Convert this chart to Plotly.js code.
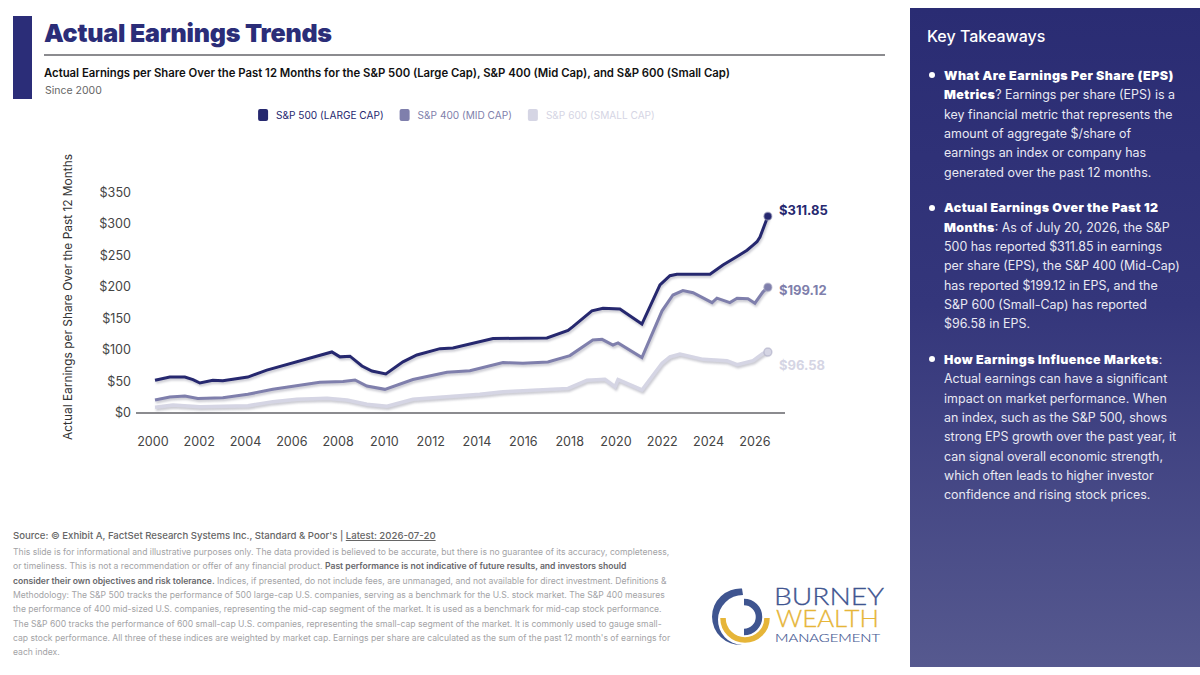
<!DOCTYPE html>
<html>
<head>
<meta charset="utf-8">
<script src="https://cdn.plot.ly/plotly-3.0.1.min.js"></script>
<style>
html,body{margin:0;padding:0;background:#fff;width:1200px;height:675px;overflow:hidden;font-family:Inter,"Noto Sans",sans-serif;}
#chart{position:absolute;left:0;top:0;width:1200px;height:675px;}
.t{position:absolute;white-space:nowrap;pointer-events:none;}
#bar{position:absolute;left:13px;top:16px;width:19px;height:83px;background:#2b2d78;}
#rule{position:absolute;left:44px;top:54px;width:841px;height:2px;background:#8b8b8f;}
#panel{position:absolute;left:910px;top:8px;width:290px;height:659px;background:linear-gradient(180deg,#2a2c73 0%,#34367b 45%,#56598f 100%);}
.k{position:absolute;left:944px;white-space:nowrap;color:#e9e9f3;font-size:12.45px;line-height:19px;font-weight:400;}
.k b{color:#fff;font-weight:900;letter-spacing:.42px;}
.dot{position:absolute;left:929px;width:6px;height:6px;border-radius:50%;background:#fff;}
.f{position:absolute;left:13px;white-space:nowrap;color:#a3a3a6;font-size:8.6px;line-height:14px;}
.f b{color:#67676b;font-weight:600;}
#logo{position:absolute;left:700px;top:570px;}
.legend .traces:nth-child(1) .legendtext{fill:#26286f !important;font-weight:500;}
.legend .traces:nth-child(2) .legendtext{fill:#7f7fac !important;font-weight:500;}
.legend .traces:nth-child(3) .legendtext{fill:#d5d5e4 !important;font-weight:500;}
.legend .legendtext{transform:translateX(-7px);}
.legend .legendpoints path{d:path("M-3,-6H3A2,2 0 0 1 5,-4V4A2,2 0 0 1 3,6H-3A2,2 0 0 1 -5,4V-4A2,2 0 0 1 -3,-6Z");stroke-width:0 !important;}
.scatterlayer .js-line{filter:drop-shadow(1px 2px 1px rgba(60,60,90,.28));}
</style>
</head>
<body>
<div id="chart"></div>
<div id="bar"></div>
<div id="rule"></div>
<div class="t" style="left:44px;top:17px;font-size:25px;line-height:32px;font-weight:900;color:#2b2d78;letter-spacing:-.2px;">Actual Earnings Trends</div>
<div class="t" style="left:44px;top:66px;font-size:11.33px;line-height:15px;font-weight:600;color:#111;">Actual Earnings per Share Over the Past 12 Months for the S&amp;P 500 (Large Cap), S&amp;P 400 (Mid Cap), and S&amp;P 600 (Small Cap)</div>
<div class="t" style="left:45px;top:84px;font-size:10.5px;line-height:14px;color:#666;">Since 2000</div>

<div class="t" style="left:13px;top:529px;font-size:9.6px;line-height:14px;font-weight:500;color:#666;">Source: © Exhibit A, FactSet Research Systems Inc., Standard &amp; Poor's | <u>Latest: 2026-07-20</u></div>
<div class="f" style="top:545px;">This slide is for informational and illustrative purposes only. The data provided is believed to be accurate, but there is no guarantee of its accuracy, completeness,</div>
<div class="f" style="top:559px;">or timeliness. This is not a recommendation or offer of any financial product. <b>Past performance is not indicative of future results, and investors should</b></div>
<div class="f" style="top:574px;"><b>consider their own objectives and risk tolerance.</b> Indices, if presented, do not include fees, are unmanaged, and not available for direct investment. Definitions &amp;</div>
<div class="f" style="top:588px;">Methodology: The S&amp;P 500 tracks the performance of 500 large-cap U.S. companies, serving as a benchmark for the U.S. stock market. The S&amp;P 400 measures</div>
<div class="f" style="top:602px;">the performance of 400 mid-sized U.S. companies, representing the mid-cap segment of the market. It is used as a benchmark for mid-cap stock performance.</div>
<div class="f" style="top:617px;">The S&amp;P 600 tracks the performance of 600 small-cap U.S. companies, representing the small-cap segment of the market. It is commonly used to gauge small-</div>
<div class="f" style="top:631px;">cap stock performance. All three of these indices are weighted by market cap. Earnings per share are calculated as the sum of the past 12 month's of earnings for</div>
<div class="f" style="top:645px;">each index.</div>

<svg id="logo" width="200" height="80" viewBox="0 0 200 80">
  <path d="M42 18.5 L43 25 A25.01 25.01 0 0 0 42 75 A28.3 28.3 0 1 1 42 18.5Z" fill="#3f5590"/>
  <path d="M44 32 A15 15 0 0 1 44 62" fill="none" stroke="#3f5590" stroke-width="6.5"/>
  <path d="M23 48 A22 22 0 0 0 67 48" fill="none" stroke="#e6b538" stroke-width="5.5"/>
  <text x="74" y="35" font-family="Lato" font-weight="300" font-size="24" fill="#3f5590" stroke="#3f5590" stroke-width=".3" textLength="110" lengthAdjust="spacingAndGlyphs">BURNEY</text>
  <text x="76" y="57" font-family="Lato" font-weight="300" font-size="24" fill="#e6b538" stroke="#e6b538" stroke-width=".3" textLength="103" lengthAdjust="spacingAndGlyphs">WEALTH</text>
  <text x="75" y="72" font-family="Lato" font-weight="300" font-size="12.5" fill="#3f5590" stroke="#3f5590" stroke-width=".15" textLength="105" lengthAdjust="spacingAndGlyphs">MANAGEMENT</text>
</svg>

<div id="panel"></div>
<div class="t" style="left:927px;top:25px;font-size:16px;line-height:22px;font-weight:500;color:#fff;">Key Takeaways</div>
<div class="dot" style="top:72px;"></div>
<div class="k" style="top:66px;"><b>What Are Earnings Per Share (EPS)</b></div>
<div class="k" style="top:85px;"><b>Metrics</b>? Earnings per share (EPS) is a</div>
<div class="k" style="top:105px;">key financial metric that represents the</div>
<div class="k" style="top:124px;">amount of aggregate $/share of</div>
<div class="k" style="top:143px;">earnings an index or company has</div>
<div class="k" style="top:163px;">generated over the past 12 months.</div>
<div class="dot" style="top:205px;"></div>
<div class="k" style="top:198px;"><b>Actual Earnings Over the Past 12</b></div>
<div class="k" style="top:218px;"><b>Months</b>: As of July 20, 2026, the S&amp;P</div>
<div class="k" style="top:237px;">500 has reported $311.85 in earnings</div>
<div class="k" style="top:256px;">per share (EPS), the S&amp;P 400 (Mid-Cap)</div>
<div class="k" style="top:276px;">has reported $199.12 in EPS, and the</div>
<div class="k" style="top:295px;">S&amp;P 600 (Small-Cap) has reported</div>
<div class="k" style="top:314px;">$96.58 in EPS.</div>
<div class="dot" style="top:356px;"></div>
<div class="k" style="top:350px;"><b>How Earnings Influence Markets</b>:</div>
<div class="k" style="top:369px;">Actual earnings can have a significant</div>
<div class="k" style="top:389px;">impact on market performance. When</div>
<div class="k" style="top:408px;">an index, such as the S&amp;P 500, shows</div>
<div class="k" style="top:427px;">strong EPS growth over the past year, it</div>
<div class="k" style="top:447px;">can signal overall economic strength,</div>
<div class="k" style="top:466px;">which often leads to higher investor</div>
<div class="k" style="top:485px;">confidence and rising stock prices.</div>

<script>
const years500 = [2000.09,2000.73,2001.38,2001.73,2002.03,2002.59,2003.02,2004.1,2004.92,2005.92,2006.91,2007.73,2008.08,2008.51,2009.03,2009.46,2010.06,2010.8,2011.4,2012.4,2012.96,2014.12,2014.69,2017.02,2017.93,2018.14,2018.57,2018.96,2019.44,2020.17,2021.12,2021.9,2022.33,2022.63,2024.06,2024.62,2025.23,2025.66,2025.92,2026.09,2026.22,2026.35,2026.44,2026.56];
const eps500 = [52,57,57,53,47.5,51.8,51,57,68,78,89,96.7,89,90,74.5,66.6,62,81,92,102,103,113,118,119,131,137,150,162,166,165,141,203,217.6,220,220,234.5,248,258,266,271.5,279,291.6,301,311.85];
const years400 = [2000.09,2000.73,2001.38,2001.94,2003.02,2004.1,2005.18,2006.22,2007.21,2008.21,2008.73,2009.24,2010.02,2011.23,2012.7,2013.69,2014.12,2015.12,2015.98,2017.06,2018.01,2019.0,2019.4,2019.87,2020.09,2021.12,2021.99,2022.46,2022.89,2023.33,2024.15,2024.36,2024.92,2025.23,2025.7,2026.0,2026.35,2026.56];
const eps400 = [20.6,25.4,27,23,24,29.6,37.5,42.8,48.6,50,52.3,42.8,37.5,53,64.5,67,70.8,80,78.7,81,91,115.7,116.8,107.8,111,88,162,187,194,190.6,175,182,175,182,181,174,192,199.12];
const years600 = [2000.09,2000.86,2002.03,2004.1,2005.18,2006.22,2007.52,2008.38,2009.24,2010.11,2011.23,2012.7,2013.69,2014.12,2015.12,2017.02,2017.93,2018.75,2019.52,2019.96,2020.09,2021.12,2021.99,2022.33,2022.76,2023.76,2024.79,2025.23,2025.92,2026.35,2026.56];
const eps600 = [9,12.7,10,11.6,18,21.7,23.3,20.6,14,10.6,21.7,25.4,27.4,29.6,33.8,36.5,39,52,53.4,41.7,53,36.5,79,89,93.5,85,83,76.5,83,94.6,96.58];
const names = ["S&P 500 (LARGE CAP)","S&P 400 (MID CAP)","S&P 600 (SMALL CAP)"];
const colors = ["#26286f","#7f7fac","#d5d5e4"];
const xTicks = [2000,2002,2004,2006,2008,2010,2012,2014,2016,2018,2020,2022,2024,2026];
const yTicks = [0,50,100,150,200,250,300,350];
const labelShift = [6,-3,-13];

const xs = [years500,years400,years600], ys = [eps500,eps400,eps600];
const widths = [3,3,3.5];
const lineTraces = xs.map((x,i)=>({x:x,y:ys[i],type:"scatter",mode:"lines",showlegend:false,hoverinfo:"skip",
  line:{color:colors[i],width:widths[i]}}));
const dotTraces = xs.map((x,i)=>({x:[x[x.length-1]],y:[ys[i][ys[i].length-1]],type:"scatter",mode:"markers",name:names[i],
  marker:{color:colors[i],size:8,line:{color:"rgba(170,170,195,.55)",width:1.5}}}));
const annotations = xs.map((x,i)=>{const v=ys[i][ys[i].length-1];return {
  x:x[x.length-1],y:v,xref:"x",yref:"y",text:"<b>$"+v.toFixed(2)+"</b>",showarrow:false,xanchor:"left",yanchor:"middle",
  xshift:9,yshift:labelShift[i],font:{family:"Inter",size:13,color:colors[i]}};});

Plotly.newPlot("chart",lineTraces.concat(dotTraces),{
  width:1200,height:675,
  paper_bgcolor:"rgba(0,0,0,0)",plot_bgcolor:"rgba(0,0,0,0)",
  margin:{l:136,r:415,t:181,b:262,pad:0},
  font:{family:"Inter",color:"#444"},
  showlegend:true,
  legend:{orientation:"h",x:0.165,xanchor:"left",y:1.284,yanchor:"middle",font:{family:"Inter",size:10.1},
    itemsizing:"constant",traceorder:"normal",bgcolor:"rgba(0,0,0,0)"},
  xaxis:{range:[1999.27,2027.3],tickmode:"array",tickvals:xTicks,ticktext:xTicks.map(String),showgrid:false,zeroline:false,
    showline:false,ticks:"",ticklabelstandoff:19,tickfont:{family:"Inter",size:12.6,color:"#444"},fixedrange:true},
  yaxis:{range:[0,367.7],tickmode:"array",tickvals:yTicks,ticktext:yTicks.map(v=>"$"+v),showgrid:false,
    zeroline:true,zerolinecolor:"#8b8b8f",zerolinewidth:2,showline:false,ticks:"",ticklabelstandoff:4,tickfont:{family:"Inter",size:12.6,color:"#444"},
    title:{text:"Actual Earnings per Share Over the Past 12 Months",font:{family:"Inter",size:11.9,color:"#333"},standoff:24},fixedrange:true},
  annotations:annotations
},{displayModeBar:false,staticPlot:true}).then(()=>{
  document.querySelectorAll(".legend .traces").forEach((g,i)=>{
    const m=/translate\(([-\d.]+),\s*([-\d.]+)\)/.exec(g.getAttribute("transform")||"");
    if(m) g.setAttribute("transform","translate("+(parseFloat(m[1])-11*i)+","+m[2]+")");
  });
});
</script>
</body>
</html>
